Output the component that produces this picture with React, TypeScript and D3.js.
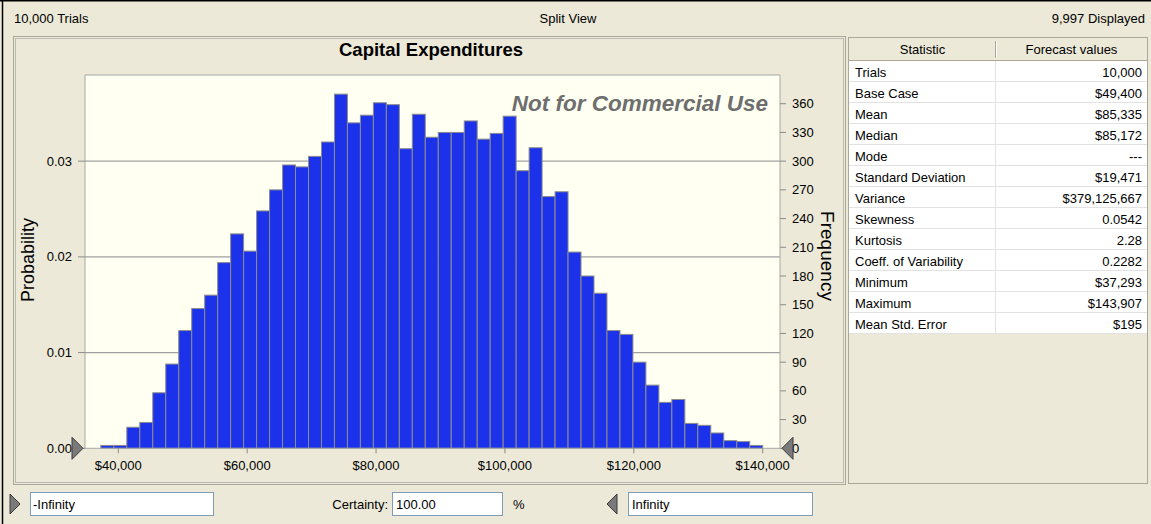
import React from "react";
import * as d3 from "d3";

// ---- data ----
const binStart = 37293;
const binEnd = 140000;
const counts = [
  3, 3, 22, 27, 58, 88, 123, 146, 160, 194,
  224, 206, 248, 270, 296, 294, 305, 320, 370, 340,
  348, 361, 359, 313, 349, 325, 330, 330, 342, 323,
  329, 347, 290, 314, 263, 268, 205, 180, 162, 123,
  119, 90, 66, 48, 51, 26, 24, 16, 8, 7, 3,
];
const xTicks = [40000, 60000, 80000, 100000, 120000, 140000];
const probTicks = [0, 0.01, 0.02, 0.03];
const freqTicks = [0, 30, 60, 90, 120, 150, 180, 210, 240, 270, 300, 330, 360];
const statNames = [
  "Trials", "Base Case", "Mean", "Median", "Mode", "Standard Deviation", "Variance",
  "Skewness", "Kurtosis", "Coeff. of Variability", "Minimum", "Maximum", "Mean Std. Error",
];
const statValues = [
  "10,000", "$49,400", "$85,335", "$85,172", "---", "$19,471", "$379,125,667",
  "0.0542", "2.28", "0.2282", "$37,293", "$143,907", "$195",
];

const FONT = "'Liberation Sans', Arial, sans-serif";
const BG = "#ECE9D8";

export default function App() {
  const W = 1151, H = 524;
  const plotL = 85, plotR = 780, plotT = 75, plotB = 448.3;
  const x = d3.scaleLinear().domain([34832, 142685]).range([plotL, plotR]);
  const yF = d3.scaleLinear().domain([0, 390]).range([plotB, plotT]);
  const yP = d3.scaleLinear().domain([0, 0.039]).range([plotB, plotT]);
  const bw = (binEnd - binStart) / counts.length;
  const fmtX = d3.format("$,.0f");
  const fmtP = d3.format(".2f");

  const tblL = 849, tblR = 1147, tblDiv = 996, hdrT = 38, hdrB = 61, rowH = 21;

  return (
    <div style={{ position: "fixed", left: 0, top: 0 }}>
      <svg width={W} height={H} style={{ display: "block", fontFamily: FONT }}>
        <rect x={0} y={0} width={W} height={H} fill={BG} />
        <line x1={0} y1={0.75} x2={W} y2={0.75} stroke="#000" strokeWidth={1.5} />
        <line x1={2.5} y1={0} x2={2.5} y2={H} stroke="#000" strokeWidth={1.5} />

        {/* top status texts */}
        <text x={14} y={23} fontSize={13} fill="#000">10,000 Trials</text>
        <text x={568} y={23} fontSize={13} fill="#000" textAnchor="middle">Split View</text>
        <text x={1145} y={23} fontSize={13} fill="#000" textAnchor="end">9,997 Displayed</text>

        {/* chart panel borders */}
        <rect x={13.5} y={36.5} width={832} height={448} fill="none" stroke="#ACA899" />
        <rect x={15.5} y={38.5} width={828} height={444} fill="none" stroke="#8a8a8a" strokeDasharray="1,1" />

        {/* title */}
        <text x={431} y={56} fontSize={18.5} fontWeight="bold" textAnchor="middle" fill="#000">Capital Expenditures</text>

        {/* plot background */}
        <rect x={plotL} y={plotT} width={plotR - plotL} height={plotB - plotT} fill="#FFFFF2" />

        {/* gridlines */}
        {probTicks.filter((t) => t > 0).map((t) => (
          <line key={t} x1={plotL} x2={plotR} y1={yP(t)} y2={yP(t)} stroke="#A0A0A0" strokeWidth={1.2} />
        ))}

        {/* watermark */}
        <text x={768} y={111} fontSize={22.5} fontWeight="bold" fontStyle="italic" fill="#6E6E6E" textAnchor="end">Not for Commercial Use</text>

        {/* bars */}
        {counts.map((c, i) => {
          const x0 = x(binStart + i * bw);
          const x1 = x(binStart + (i + 1) * bw);
          return (
            <rect key={i} x={x0} y={yF(c)} width={x1 - x0} height={yF(0) - yF(c)}
              fill="#1B32EA" stroke="#8C8C8C" strokeWidth={1} />
          );
        })}

        {/* plot frame */}
        <line x1={plotL} x2={plotR} y1={plotT} y2={plotT} stroke="#A8A8A8" />
        <line x1={plotL} x2={plotL} y1={plotT} y2={plotB} stroke="#A8A8A8" />
        <line x1={plotR} x2={plotR} y1={plotT} y2={plotB} stroke="#A8A8A8" />
        <line x1={plotL} x2={plotR} y1={plotB} y2={plotB} stroke="#A8A8A8" />

        {/* left axis */}
        {probTicks.map((t) => (
          <g key={t}>
            <line x1={plotL - 7} x2={plotL} y1={yP(t)} y2={yP(t)} stroke="#8a8a8a" />
            <text x={72} y={yP(t) + 4.5} fontSize={13} textAnchor="end" fill="#000">{fmtP(t)}</text>
          </g>
        ))}
        <text transform={`translate(34,260) rotate(-90)`} fontSize={18} textAnchor="middle" fill="#000">Probability</text>

        {/* right axis */}
        {freqTicks.map((t) => (
          <g key={t}>
            <line x1={plotR} x2={plotR + 6} y1={yF(t)} y2={yF(t)} stroke="#8a8a8a" />
            <text x={792} y={yF(t) + 4.5} fontSize={13} fill="#000">{t}</text>
          </g>
        ))}
        <text transform={`translate(821,256) rotate(90)`} fontSize={19} textAnchor="middle" fill="#000">Frequency</text>

        {/* x axis */}
        {xTicks.map((t) => (
          <g key={t}>
            <line x1={x(t)} x2={x(t)} y1={plotB} y2={plotB + 5} stroke="#8a8a8a" />
            <text x={x(t)} y={470} fontSize={13} textAnchor="middle" fill="#000">{fmtX(t)}</text>
          </g>
        ))}

        {/* grabber triangles on axis */}
        <polygon points={`${plotL - 13},${plotB - 11} ${plotL - 2},${plotB} ${plotL - 13},${plotB + 11}`}
          fill="#7A7A7A" stroke="#3A3A3A" strokeWidth={1} />
        <polygon points={`${plotR + 13},${plotB - 11} ${plotR + 2},${plotB} ${plotR + 13},${plotB + 11}`}
          fill="#7A7A7A" stroke="#3A3A3A" strokeWidth={1} />

        {/* stats table panel */}
        <rect x={tblL - 0.5} y={hdrT - 0.5} width={tblR - tblL + 1} height={446} fill="none" stroke="#ACA899" />
        <rect x={tblL} y={hdrT} width={tblR - tblL} height={hdrB - hdrT} fill={BG} />
        <line x1={tblL} x2={tblR} y1={hdrB - 0.5} y2={hdrB - 0.5} stroke="#ACA899" />
        <line x1={tblDiv - 0.5} x2={tblDiv - 0.5} y1={hdrT + 3} y2={hdrB - 3} stroke="#ACA899" />
        <line x1={tblDiv + 0.5} x2={tblDiv + 0.5} y1={hdrT + 3} y2={hdrB - 3} stroke="#fff" />
        <text x={(tblL + tblDiv) / 2} y={54} fontSize={13} textAnchor="middle" fill="#000">Statistic</text>
        <text x={(tblDiv + tblR) / 2} y={54} fontSize={13} textAnchor="middle" fill="#000">Forecast values</text>
        <rect x={tblL} y={hdrB} width={tblR - tblL} height={rowH * statNames.length} fill="#fff" />
        {statNames.map((n, i) => {
          const top = hdrB + i * rowH;
          return (
            <g key={n}>
              <line x1={tblL} x2={tblR} y1={top + rowH - 0.5} y2={top + rowH - 0.5} stroke="#E2E2E2" />
              <line x1={tblDiv - 0.5} x2={tblDiv - 0.5} y1={top} y2={top + rowH} stroke="#E2E2E2" />
              <text x={855} y={top + 16} fontSize={13} fill="#000">{n}</text>
              <text x={1142} y={top + 16} fontSize={13} textAnchor="end" fill="#000">{statValues[i]}</text>
            </g>
          );
        })}

        {/* bottom controls */}
        <polygon points="10,494 20,504 10,514" fill="#7A7A7A" stroke="#3A3A3A" />
        <rect x={30.5} y={492.5} width={183} height={23} fill="#fff" stroke="#7F9DB9" />
        <text x={33} y={509} fontSize={13} fill="#000">-Infinity</text>
        <text x={388} y={509} fontSize={13} textAnchor="end" fill="#000">Certainty:</text>
        <rect x={392.5} y={492.5} width={110} height={23} fill="#fff" stroke="#7F9DB9" />
        <text x={396} y={509} fontSize={13} fill="#000">100.00</text>
        <text x={513} y={509} fontSize={13} fill="#000">%</text>
        <polygon points="617,494 607,504 617,514" fill="#7A7A7A" stroke="#3A3A3A" />
        <rect x={628.5} y={492.5} width={184} height={23} fill="#fff" stroke="#7F9DB9" />
        <text x={632} y={509} fontSize={13} fill="#000">Infinity</text>
      </svg>
    </div>
  );
}
